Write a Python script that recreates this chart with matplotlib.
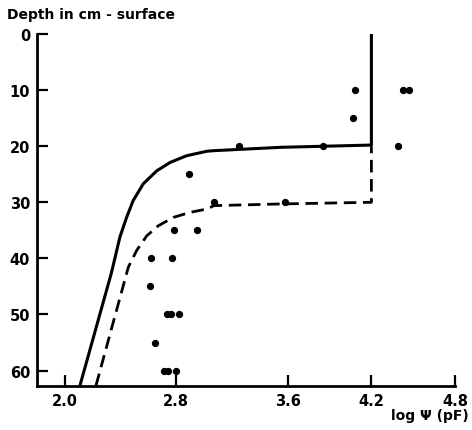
import matplotlib
matplotlib.use("Agg")
import matplotlib.pyplot as plt

# Measured points (log psi, depth cm)
pts_x = [4.08, 4.07, 4.43, 4.47, 4.39, 3.85, 3.25, 2.89, 3.07, 3.58,
         2.78, 2.95, 2.62, 2.77, 2.61, 2.73, 2.76, 2.82, 2.65, 2.71, 2.74, 2.80]
pts_d = [10, 15, 10, 10, 20, 20, 20, 25, 30, 30,
         35, 35, 40, 40, 45, 50, 50, 50, 55, 60, 60, 60]

# Solid curve
solid_x = [2.108, 2.335, 2.395, 2.443, 2.49, 2.563, 2.659, 2.755, 2.874, 3.02, 3.07, 3.55, 4.2, 4.2]
solid_d = [62.7, 42.5, 36.2, 32.7, 29.7, 26.7, 24.4, 22.9, 21.7, 20.9, 20.8, 20.2, 19.8, 0]

# Dashed curve
dash_x = [2.223, 2.455, 2.515, 2.587, 2.67, 2.778, 2.898, 3.02, 3.07, 3.55, 4.2, 4.2]
dash_d = [62.7, 41.6, 38.6, 36.0, 34.2, 32.7, 31.8, 31.2, 30.6, 30.3, 30.0, 20.0]

xticks = [2.0, 2.8, 3.6, 4.2, 4.8]
xticklabels = ["2.0", "2.8", "3.6", "4.2", "4.8"]
yticks = [0, 10, 20, 30, 40, 50, 60]

plt.rcParams['font.family'] = ['DejaVu Sans']
fig = plt.figure(figsize=(4.72, 4.31), dpi=100)
ax = fig.add_axes([37/472, 1-386.7/431, (455-37)/472, (386.7-35)/431])

ax.plot(solid_x, solid_d, color='black', lw=2.2, solid_capstyle='butt', clip_on=False)
ax.plot(dash_x, dash_d, color='black', lw=2.0, linestyle=(0, (4.5, 2.4)), clip_on=True)
ax.scatter(pts_x, pts_d, s=18, color='black', zorder=3, clip_on=False)

ax.set_xlim(1.8, 4.8)
ax.set_ylim(62.7, 0)
ax.set_xticks(xticks)
ax.set_xticklabels(xticklabels)
ax.set_yticks(yticks)
ax.tick_params(direction='in', length=8, width=1.6, labelsize=10.5, pad=5)
for lab in ax.get_xticklabels() + ax.get_yticklabels():
    lab.set_fontweight('bold')
for s in ['top', 'right']:
    ax.spines[s].set_visible(False)
for s in ['left', 'bottom']:
    ax.spines[s].set_linewidth(2)

fig.text(7/472, 1-15/431, "Depth in cm - surface", fontsize=10, fontweight='bold', va='center', ha='left')
fig.text(430/472, 1-416/431, "log Ψ (pF)", fontsize=10, fontweight='bold', va='center', ha='center')

fig.savefig("out.png", dpi=100)
